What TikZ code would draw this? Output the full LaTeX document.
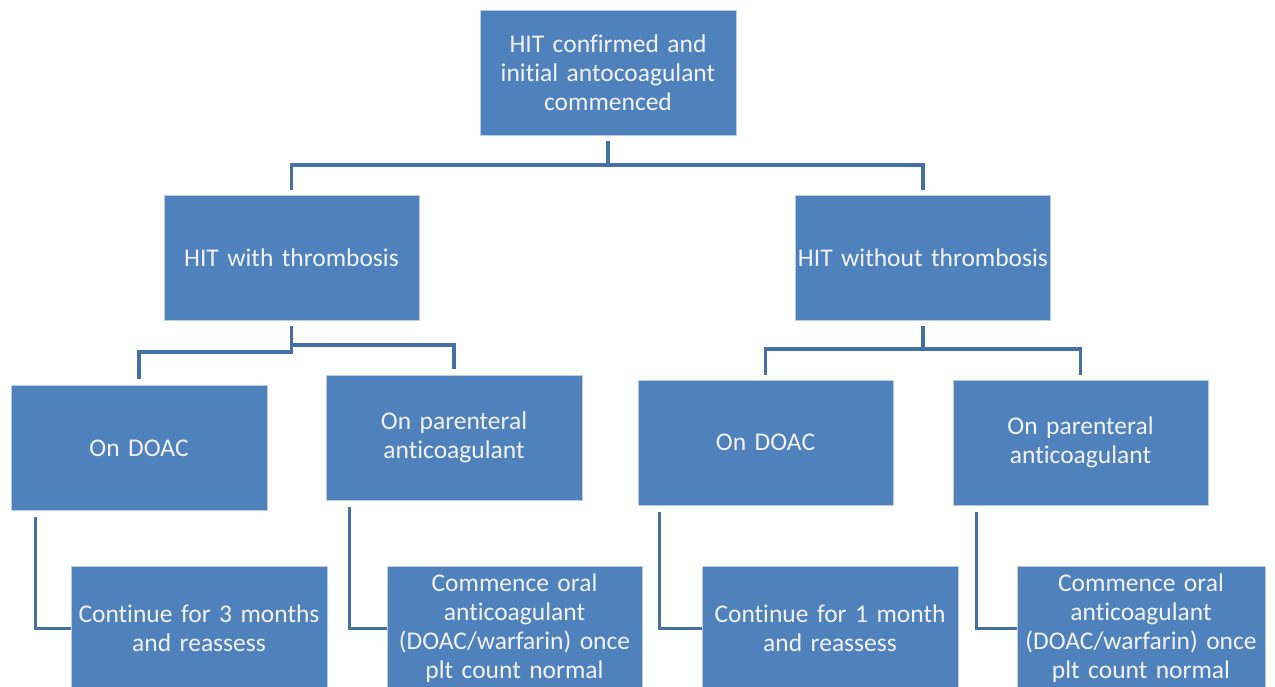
\documentclass[tikz,border=0pt]{standalone}
\usepackage{fontspec}
\setmainfont[Ligatures={NoCommon},WordSpace=0.8]{Carlito}
\definecolor{boxfill}{HTML}{4F81BD}
\definecolor{boxline}{HTML}{B9CDE5}
\definecolor{connc}{HTML}{4470A6}
\begin{document}
\begin{tikzpicture}[x=1pt,y=-1pt,
  box/.style={rectangle, fill=boxfill, draw=boxline, line width=1pt, text=white!95!black,
    minimum width=#1, minimum height=125pt, inner sep=1pt, align=center,
    font=\fontsize{25.5}{29}\selectfont, text width=#1-2pt},
  box/.default=256pt,
  conn/.style={draw=connc, line width=3.5pt}]
\useasboundingbox (0,0) rectangle (1275,686);
\node[box] (top) at (608,73) {HIT confirmed and\\initial antocoagulant\\commenced};
\node[box=255pt] (hw) at (291.5,258) {HIT with thrombosis};
\node[box=255pt] (hwo) at (923,258) {HIT without thrombosis};
\node[box] (doac1) at (139,448) {On DOAC};
\node[box] (par1) at (454,437.5) {On parenteral\\anticoagulant};
\node[box=255pt] (doac2) at (765.5,442.5) {On DOAC};
\node[box=255pt] (par2) at (1080.5,442.5) {On parenteral\\anticoagulant};
\node[box] (cont1) at (199,628.5) {Continue for 3 months\\and reassess};
\node[box=255pt] (com1) at (514.5,628.5) {Commence oral\\anticoagulant\\(DOAC/warfarin) once\\plt count normal};
\node[box] (cont2) at (830,628.5) {Continue for 1 month\\and reassess};
\node[box=248pt] (com2) at (1141,628.5) {Commence oral\\anticoagulant\\(DOAC/warfarin) once\\plt count normal};
% top split
\draw[conn, shorten <=5pt, shorten >=5pt] (top.south) -- ++(0,29) -| (hw.north);
\draw[conn, shorten <=5pt, shorten >=5pt] (top.south) -- ++(0,29) -| (hwo.north);
% left mid split
\draw[conn, shorten <=5pt, shorten >=6pt] (hw.south) -- ++(0,31) -| (doac1.north);
\draw[conn, shorten <=5pt, shorten >=6pt] (hw.south) -- ++(0,24) -| (par1.north);
% right mid split
\draw[conn, shorten <=5pt, shorten >=5pt] (hwo.south) -- ++(0,28) -| (doac2.north);
\draw[conn, shorten <=5pt, shorten >=5pt] (hwo.south) -- ++(0,28) -| (par2.north);
% bottom elbows
\draw[conn, shorten <=6pt] ([xshift=25pt]doac1.south west) |- (cont1.west);
\draw[conn, shorten <=6pt] ([xshift=24pt]par1.south west) |- (com1.west);
\draw[conn, shorten <=6pt] ([xshift=22pt]doac2.south west) |- (cont2.west);
\draw[conn, shorten <=6pt] ([xshift=24pt]par2.south west) |- (com2.west);
\end{tikzpicture}
\end{document}
